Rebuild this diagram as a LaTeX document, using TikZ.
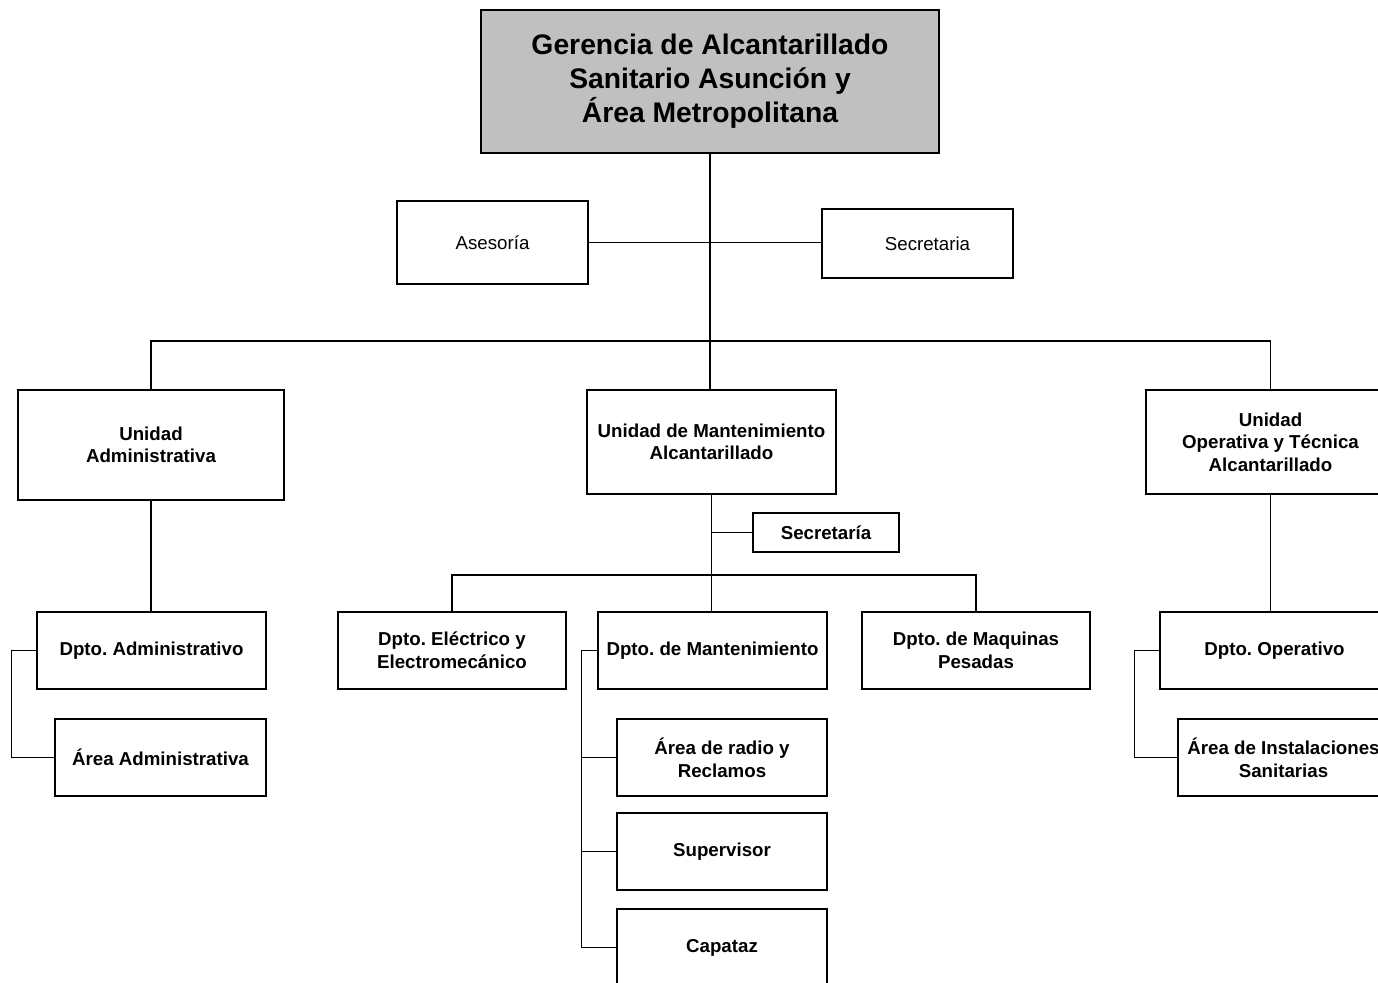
\documentclass[tikz,border=0pt]{standalone}
\usepackage{fontspec}
\setmainfont{Liberation Sans}
\frenchspacing
\definecolor{topgray}{HTML}{C0C0C0}
\tikzset{
  orgbox/.style={draw=black, line width=1.5pt, rectangle, align=center, inner sep=0pt,
    font=\fontsize{18.7}{22.6}\selectfont\bfseries},
  plainbox/.style={orgbox, font=\fontsize{18.7}{22.6}\selectfont},
  topbox/.style={orgbox, fill=topgray, font=\fontsize{28.3}{34}\selectfont\bfseries},
  link/.style={draw=black, line width=1.5pt},
}
\begin{document}
\frenchspacing
\begin{tikzpicture}[x=1pt, y=-1pt]
\useasboundingbox (0,0) rectangle (1378,982);
\clip (0,0) rectangle (1378,982);
\fill[white] (0,0) rectangle (1378,982);

\node[topbox, minimum width=458, minimum height=143] (top) at (710,81.5)
  {Gerencia de Alcantarillado\\Sanitario Asunción y\\Área Metropolitana};
\node[plainbox, minimum width=191, minimum height=83] (ases) at (492.5,242.5) {Asesoría};
\node[plainbox, minimum width=191, minimum height=69] (secr) at (917.5,243.5) {\hspace*{20pt}Secretaria};

\node[orgbox, minimum width=266, minimum height=110] (uadm) at (151,445) {Unidad\\Administrativa};
\node[orgbox, minimum width=249, minimum height=104] (umant) at (711.5,442) {Unidad de Mantenimiento\\Alcantarillado};
\node[orgbox, minimum width=249, minimum height=104] (uop) at (1270.5,442) {Unidad\\Operativa y Técnica\\Alcantarillado};

\node[orgbox, minimum width=229, minimum height=77] (dadm) at (151.5,650.5) {Dpto. Administrativo};
\node[orgbox, minimum width=211, minimum height=77] (aadm) at (160.5,757.5) {Área Administrativa};

\node[orgbox, minimum width=146, minimum height=39] (sec2) at (826,532.5) {Secretaría};
\node[orgbox, minimum width=228, minimum height=77] (delec) at (452,650.5) {Dpto. Eléctrico y\\Electromecánico};
\node[orgbox, minimum width=229, minimum height=77] (dmant) at (712.5,650.5) {Dpto. de Mantenimiento};
\node[orgbox, minimum width=228, minimum height=77] (dmaq) at (976,650.5) {Dpto. de Maquinas\\Pesadas};

\node[orgbox, minimum width=210, minimum height=77] (radio) at (722,757.5) {Área de radio y\\Reclamos};
\node[orgbox, minimum width=210, minimum height=77] (sup) at (722,851.5) {Supervisor};
\node[orgbox, minimum width=210, minimum height=77] (cap) at (722,947.5) {Capataz};

\node[orgbox, minimum width=229, minimum height=77] (dop) at (1274.5,650.5) {Dpto. Operativo};
\node[orgbox, minimum width=211, minimum height=77] (ainst) at (1283.5,757.5) {Área de Instalaciones\\Sanitarias};

\coordinate (hbar) at (0,341);
\coordinate (hbar2) at (0,575);

% top trunk
\draw[link] (top.south) -- (top.south |- umant.north);
\draw[link] (ases.east) -- (ases.east -| secr.west);
\draw[link] (uadm.north) -- (uadm.north |- hbar) -- (uop.north |- hbar) -- (uop.north);

% left branch
\draw[link] (uadm.south) -- (uadm.south |- dadm.north);
\draw[link] (dadm.west) -- ++(-25,0) |- (aadm.west);

% center branch
\draw[link] (umant.south) -- (umant.south |- dmant.north);
\draw[link] (umant.south |- sec2.west) -- (sec2.west);
\draw[link] (delec.north) -- (delec.north |- hbar2) -- (dmaq.north |- hbar2) -- (dmaq.north);
\draw[link] (dmant.west) -- ++(-16,0) coordinate (mvert) |- (cap.west);
\draw[link] (mvert |- radio.west) -- (radio.west);
\draw[link] (mvert |- sup.west) -- (sup.west);

% right branch
\draw[link] (uop.south) -- (uop.south |- dop.north);
\draw[link] (dop.west) -- ++(-25,0) |- (ainst.west);
\end{tikzpicture}
\end{document}
